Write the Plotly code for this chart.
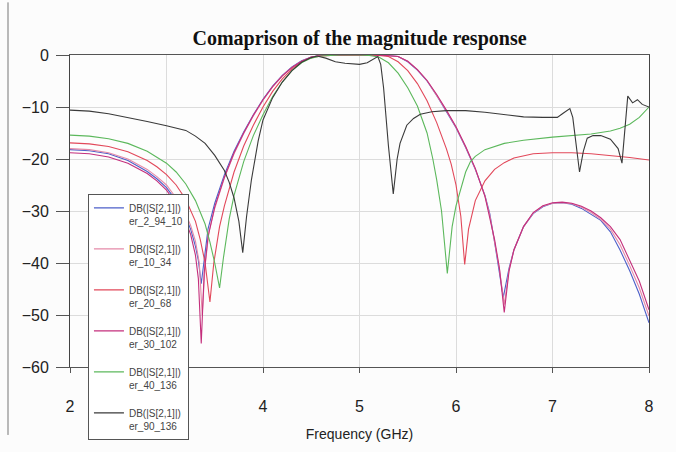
import plotly.graph_objects as go

# ---------------- data ----------------
f_blue = [2.0, 2.2, 2.4, 2.6, 2.8, 2.9, 3.0, 3.1, 3.2, 3.25, 3.3, 3.33, 3.36, 3.39, 3.43, 3.5, 3.6, 3.7,
          3.8, 3.9, 4.0, 4.1, 4.2, 4.3, 4.4, 4.5, 4.6, 4.8, 5.0, 5.2, 5.3, 5.4, 5.5, 5.6, 5.7, 5.8, 5.9,
          6.0, 6.1, 6.2, 6.3, 6.35, 6.4, 6.45, 6.49, 6.55, 6.6, 6.7, 6.8, 6.9, 7.0, 7.1, 7.2, 7.3, 7.4,
          7.5, 7.6, 7.7, 7.8, 7.9, 8.0]
db_blue = [-18.2, -18.4, -19.0, -20.3, -22.4, -23.8, -25.5, -28.0, -31.2, -33.5, -36.8, -39.5, -44.0,
           -39.0, -33.5, -28.5, -23.0, -18.5, -14.8, -11.5, -8.5, -6.0, -3.9, -2.3, -1.1, -0.4, -0.1,
           0.0, 0.0, 0.0, -0.1, -0.3, -1.3, -2.9, -5.0, -7.8, -10.8, -14.0, -17.8, -22.0, -27.0, -30.5,
           -36.0, -41.5, -46.6, -41.0, -37.5, -33.0, -30.5, -29.2, -28.5, -28.4, -28.7, -29.5, -30.6,
           -31.8, -34.0, -37.5, -41.5, -46.0, -51.5]

f_pink = [2.0, 2.2, 2.4, 2.6, 2.8, 2.9, 3.0, 3.1, 3.2, 3.25, 3.3, 3.34, 3.37, 3.4, 3.44, 3.5, 3.6, 3.7,
          3.8, 3.9, 4.0, 4.1, 4.2, 4.3, 4.4, 4.5, 4.6, 4.8, 5.0, 5.2, 5.3, 5.4, 5.5, 5.6, 5.7, 5.8, 5.9,
          6.0, 6.1, 6.2, 6.3, 6.35, 6.4, 6.45, 6.5, 6.55, 6.6, 6.7, 6.8, 6.9, 7.0, 7.1, 7.2, 7.3, 7.4,
          7.5, 7.6, 7.7, 7.8, 7.9, 8.0]
db_pink = [-18.0, -18.2, -18.8, -20.0, -22.0, -23.4, -25.0, -27.5, -30.6, -32.8, -35.8, -40.0, -50.0,
           -40.5, -34.0, -29.5, -23.6, -19.0, -15.1, -11.7, -8.7, -6.1, -4.0, -2.4, -1.2, -0.4, -0.1,
           0.0, 0.0, 0.0, -0.1, -0.3, -1.2, -2.8, -4.9, -7.7, -10.7, -13.9, -17.7, -21.9, -27.1, -30.8,
           -35.8, -41.2, -48.0, -41.3, -37.5, -33.0, -30.4, -29.1, -28.5, -28.4, -28.6, -29.3, -30.3,
           -31.6, -33.5, -36.5, -40.5, -44.8, -50.2]

f_red = [2.0, 2.2, 2.4, 2.6, 2.8, 2.9, 3.0, 3.1, 3.2, 3.3, 3.35, 3.4, 3.45, 3.49, 3.55, 3.6, 3.7, 3.8,
         3.9, 4.0, 4.1, 4.2, 4.3, 4.4, 4.5, 4.6, 4.8, 5.0, 5.2, 5.3, 5.4, 5.5, 5.6, 5.7, 5.8, 5.9, 5.95,
         6.0, 6.05, 6.09, 6.13, 6.2, 6.3, 6.4, 6.5, 6.6, 6.8, 7.0, 7.2, 7.4, 7.6, 7.8, 8.0]
db_red = [-16.9, -17.1, -17.6, -18.6, -20.3, -21.5, -23.0, -25.0, -27.8, -32.0, -35.5, -40.0, -47.5,
          -40.0, -33.0, -29.0, -22.5, -17.5, -13.5, -10.0, -7.0, -4.6, -2.7, -1.3, -0.5, -0.2, 0.0, 0.0,
          -0.1, -0.3, -1.3, -3.0, -5.5, -8.8, -13.0, -18.0, -21.0, -25.0, -31.0, -40.3, -33.5, -28.0,
          -24.2, -22.0, -20.7, -19.8, -19.0, -18.8, -18.8, -19.0, -19.3, -19.7, -20.2]

f_mag = [2.0, 2.2, 2.4, 2.6, 2.8, 2.9, 3.0, 3.1, 3.2, 3.25, 3.3, 3.33, 3.36, 3.39, 3.43, 3.5, 3.6, 3.7,
         3.8, 3.9, 4.0, 4.1, 4.2, 4.3, 4.4, 4.5, 4.6, 4.8, 5.0, 5.2, 5.3, 5.4, 5.5, 5.6, 5.7, 5.8, 5.9,
         6.0, 6.1, 6.2, 6.3, 6.4, 6.45, 6.5, 6.55, 6.6, 6.7, 6.8, 6.9, 7.0, 7.1, 7.2, 7.3, 7.4, 7.5,
         7.6, 7.7, 7.8, 7.9, 8.0]
db_mag = [-18.8, -19.0, -19.6, -20.8, -22.8, -24.2, -26.0, -28.6, -32.0, -34.5, -38.5, -43.0, -55.5,
          -42.0, -35.0, -29.2, -23.5, -18.8, -15.0, -11.6, -8.6, -6.1, -4.0, -2.4, -1.2, -0.4, -0.1,
          0.0, 0.0, 0.0, -0.1, -0.3, -1.2, -2.8, -4.9, -7.6, -10.6, -13.8, -17.6, -21.8, -27.2, -35.5,
          -41.0, -49.5, -41.5, -37.5, -33.0, -30.3, -29.0, -28.4, -28.3, -28.5, -29.1, -30.0, -31.3,
          -33.0, -35.5, -39.5, -43.5, -49.0]

f_green = [2.0, 2.2, 2.4, 2.6, 2.8, 3.0, 3.1, 3.2, 3.3, 3.4, 3.45, 3.5, 3.55, 3.59, 3.65, 3.7, 3.8,
           3.9, 4.0, 4.1, 4.2, 4.3, 4.4, 4.5, 4.6, 4.8, 5.0, 5.1, 5.2, 5.3, 5.4, 5.5, 5.6, 5.7, 5.76,
           5.8, 5.85, 5.91, 5.96, 6.0, 6.1, 6.15, 6.2, 6.3, 6.5, 6.7, 7.0, 7.2, 7.4, 7.6, 7.7, 7.8, 7.9, 8.0]
db_green = [-15.4, -15.6, -16.1, -17.0, -18.5, -20.8, -22.5, -24.8, -28.0, -32.5, -36.0, -40.0, -44.8,
            -39.0, -31.5, -27.0, -20.5, -15.5, -11.5, -8.0, -5.2, -3.0, -1.5, -0.6, -0.2, 0.0, 0.0,
            -0.1, -0.4, -1.5, -3.5, -6.3, -9.8, -15.0, -20.0, -24.0, -30.0, -42.0, -33.0, -29.0, -22.5,
            -20.5, -19.5, -18.2, -17.0, -16.4, -15.8, -15.5, -15.2, -14.6, -14.1, -13.3, -12.0, -10.0]

f_black = [2.0, 2.2, 2.4, 2.6, 2.8, 3.0, 3.2, 3.3, 3.4, 3.5, 3.6, 3.65, 3.7, 3.75, 3.79, 3.83, 3.88,
           3.95, 4.0, 4.1, 4.2, 4.3, 4.4, 4.5, 4.56, 4.65, 4.75, 4.85, 5.0, 5.08, 5.14, 5.19, 5.22, 5.25,
           5.3, 5.35, 5.39, 5.42, 5.49, 5.56, 5.63, 5.75, 5.9, 6.1, 6.3, 6.5, 6.7, 6.9, 7.05, 7.11, 7.18,
           7.21, 7.25, 7.28, 7.32, 7.36, 7.42, 7.5, 7.6, 7.68, 7.72, 7.75, 7.78, 7.83, 7.88, 7.93, 8.0]
db_black = [-10.6, -10.8, -11.3, -12.0, -12.8, -13.6, -14.5, -15.6, -17.0, -19.3, -22.2, -24.5, -27.5,
            -32.0, -38.0, -31.0, -24.0, -16.5, -12.5, -8.2, -5.2, -3.0, -1.4, -0.5, -0.2, -0.6, -1.3,
            -1.6, -1.8, -1.5, -0.9, -0.3, -1.8, -6.4, -17.5, -26.7, -20.0, -17.0, -13.5, -12.2, -11.4,
            -10.9, -10.7, -10.7, -11.0, -11.5, -11.9, -12.0, -12.0, -11.2, -10.3, -12.0, -18.0, -22.5,
            -18.5, -16.0, -15.5, -15.5, -16.2, -18.0, -20.8, -14.0, -7.9, -9.2, -8.6, -9.5, -10.0]

series_names = ["er_2_94_10", "er_10_34", "er_20_68", "er_30_102", "er_40_136", "er_90_136"]
series_f = [f_blue, f_pink, f_red, f_mag, f_green, f_black]
series_db = [db_blue, db_pink, db_red, db_mag, db_green, db_black]
series_colors = ["#4d5fc9", "#e58aa8", "#e2485a", "#c42f7c", "#5cb85c", "#3a3a3a"]

# the "3" label is hidden behind the legend box in the reference
x_ticks = [2, 3, 4, 5, 6, 7, 8]
x_tick_text = ["2", "", "4", "5", "6", "7", "8"]
y_ticks = [0, -10, -20, -30, -40, -50, -60]

# ---------------- figure ----------------
fig = go.Figure()
for i, (name, fx, fy, col) in enumerate(zip(series_names, series_f, series_db, series_colors)):
    fig.add_trace(go.Scatter(
        x=fx, y=fy, mode="lines", name="DB(|S[2,1]|)<br>" + name,
        legendgroup=name,
        line=dict(color=col, width=1.1),
    ))

fig.update_layout(
    width=676, height=452,
    margin=dict(l=70, r=27, t=55, b=71),
    paper_bgcolor="#fcfcfc",
    plot_bgcolor="#fdfdfd",
    font=dict(family="Liberation Sans, Arial, sans-serif", color="#222"),
    title=dict(
        text="<b>Comaprison of the magnitude response</b>",
        font=dict(family="Liberation Serif, Times New Roman, serif", size=20, color="#111"),
        x=0.5, xanchor="center", xref="paper",
        y=1 - 38 / 452, yanchor="middle",
    ),
    showlegend=True,
    legend=dict(
        x=0.031, y=0.555, xanchor="left", yanchor="top",
        bgcolor="#ffffff", bordercolor="#555", borderwidth=1,
        font=dict(family="Liberation Sans, Arial, sans-serif", size=10, color="#444"),
        valign="top", tracegroupgap=12, itemwidth=30,
    ),
    xaxis=dict(
        range=[2, 8], tickvals=x_ticks, ticktext=x_tick_text,
        showgrid=True, gridcolor="#dcdcdc", gridwidth=1,
        showline=True, linecolor="#555", linewidth=1, mirror=True,
        ticks="outside", ticklen=5, tickcolor="#555",
        ticklabelstandoff=20,
        tickfont=dict(size=16), zeroline=False,
        title=dict(text="Frequency (GHz)", font=dict(size=14), standoff=14),
    ),
    yaxis=dict(
        range=[-60, 0], tickvals=y_ticks,
        showgrid=True, gridcolor="#dcdcdc", gridwidth=1,
        showline=True, linecolor="#444", linewidth=1, mirror=True,
        ticks="outside", ticklen=13, tickcolor="#555",
        ticklabelstandoff=4,
        tickfont=dict(size=16), zeroline=False,
    ),
    shapes=[dict(type="line", xref="paper", yref="paper",
                 x0=(8 - 70) / 579, x1=(8 - 70) / 579, y0=(381 - 452) / 326, y1=(381 - 0) / 326,
                 line=dict(color="#777", width=1))],
)

fig.write_html("out.html")
